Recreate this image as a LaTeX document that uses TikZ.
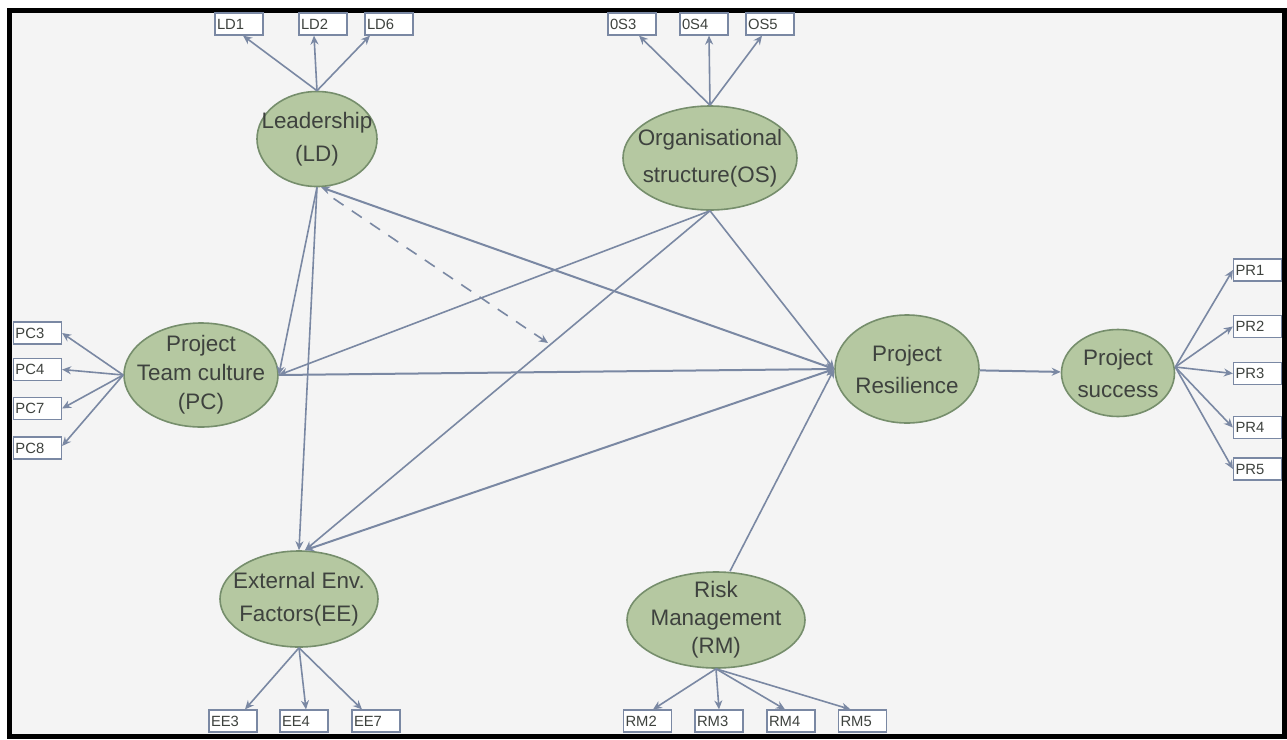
\documentclass[tikz,border=0pt]{standalone}
\usepackage{fontspec}
\setmainfont{Liberation Sans}
\usepackage{tikz}
\usetikzlibrary{shapes.geometric,arrows.meta}

\definecolor{linkc}{RGB}{122,136,163}
\definecolor{latfill}{RGB}{181,200,161}
\definecolor{latdraw}{RGB}{118,142,108}
\definecolor{txtc}{RGB}{62,66,62}
\definecolor{bgc}{RGB}{244,244,244}

\begin{document}
\begin{tikzpicture}[x=0.5pt, y=-0.5pt, >={Stealth[length=4.5pt,width=4pt]},
    latent/.style={ellipse, draw=latdraw, fill=latfill, line width=0.8pt, inner xsep=-12pt, inner ysep=-6pt,
        align=center, text=txtc, font=\fontsize{11.2}{14.5}\selectfont},
    item/.style={rectangle, draw=linkc, fill=white, line width=0.6pt, minimum height=11pt,
        inner sep=1pt, text width=22pt, align=left, text=txtc, font=\fontsize{7.4}{8}\selectfont},
    link/.style={draw=linkc, line width=0.8pt, ->}]
    % Frame and background
    \useasboundingbox (0,0) rectangle (1287,740);
    \fill[white] (0,0) rectangle (1287,740);
    \fill[bgc] (9.5,10.5) rectangle (1284.5,736);
    \draw[black, line width=2.5pt] (9.5,10.5) rectangle (1284.5,736);

    % Latent constructs
    \node (LD) at (317,139) [latent, minimum width=60pt, minimum height=47.5pt, font=\fontsize{11.2}{16.5}\selectfont] {Leadership\\(LD)};
    \node (OS) at (710,158) [latent, minimum width=87pt, minimum height=52pt, font=\fontsize{11.2}{18.5}\selectfont] {Organisational\\structure(OS)};
    \node (PC) at (201,375) [latent, minimum width=77pt, minimum height=52pt] {Project\\Team culture\\(PC)};
    \node (PR) at (907,369) [latent, minimum width=72pt, minimum height=54pt, font=\fontsize{11.2}{16}\selectfont] {Project\\Resilience};
    \node (PS) at (1118,373) [latent, minimum width=56.5pt, minimum height=43.5pt, font=\fontsize{11.2}{16}\selectfont] {Project\\success};
    \node (EE) at (299,599) [latent, minimum width=79pt, minimum height=48pt, font=\fontsize{11.2}{16.5}\selectfont] {External Env.\\Factors(EE)};
    \node (RM) at (716,620) [latent, minimum width=89pt, minimum height=48pt, font=\fontsize{11.2}{14}\selectfont] {Risk\\Management\\(RM)};

    % Indicators
    \node (LD1) at (239,24) [item] {LD1};
    \node (LD2) at (323,24) [item] {LD2};
    \node (LD6) at (389,24) [item] {LD6};
    \node (OS3) at (632,24) [item] {0S3};
    \node (OS4) at (704,24) [item] {0S4};
    \node (OS5) at (770,24) [item] {OS5};
    \node (PC3) at (37.5,333) [item] {PC3};
    \node (PC4) at (37.5,369.5) [item] {PC4};
    \node (PC7) at (37.5,408.5) [item] {PC7};
    \node (PC8) at (37.5,448) [item] {PC8};
    \node (PR1) at (1257.5,270) [item] {PR1};
    \node (PR2) at (1257.5,326.5) [item] {PR2};
    \node (PR3) at (1257.5,373.5) [item] {PR3};
    \node (PR4) at (1257.5,427.5) [item] {PR4};
    \node (PR5) at (1257.5,469) [item] {PR5};
    \node (EE3) at (233,721) [item] {EE3};
    \node (EE4) at (304,721) [item] {EE4};
    \node (EE7) at (376,721) [item] {EE7};
    \node (RM2) at (647.5,721) [item] {RM2};
    \node (RM3) at (719,721) [item] {RM3};
    \node (RM4) at (791,721) [item] {RM4};
    \node (RM5) at (862.5,721) [item] {RM5};

    % Structural paths
    \draw[link] (LD.south) -- (PC.east);
    \draw[link] (LD.south) -- (EE.north);
    \draw[link, <->, line width=1pt] ([xshift=2pt]LD.south) -- (PR.west);
    \draw[link] (OS.south) -- (PC.east);
    \draw[link] (OS.south) -- ([xshift=3pt]EE.north);
    \draw[link] (OS.south) -- (PR.west);
    \draw[link, line width=1pt] (PC.east) -- (PR.west);
    \draw[link, <->, line width=1pt] ([xshift=3pt]EE.north) -- (PR.west);
    \draw[link] ([xshift=7pt]RM.north) -- (PR.west);
    \draw[link, line width=1pt] (PR) -- (PS);

    % Moderation (dashed)
    \coordinate (mod) at (548,343);
    \draw[link, dash pattern=on 6pt off 5pt, shorten <=10pt] (LD.south) -- (mod);

    % Measurement paths
    \draw[link] (LD.north) -- ([xshift=2pt]LD1.south);
    \draw[link] (LD.north) -- ([xshift=-4.5pt]LD2.south);
    \draw[link] (LD.north) -- ([xshift=-9.5pt]LD6.south);
    \draw[link] (OS.north) -- ([xshift=3.5pt]OS3.south);
    \draw[link] (OS.north) -- ([xshift=2.5pt]OS4.south);
    \draw[link] (OS.north) -- ([xshift=-4pt]OS5.south);
    \draw[link] (PC.west) -- (PC3.east);
    \draw[link] (PC.west) -- (PC4.east);
    \draw[link] (PC.west) -- (PC7.east);
    \draw[link] (PC.west) -- ([yshift=1pt]PC8.east);
    \draw[link] ([yshift=3pt]PS.east) -- (PR1.west);
    \draw[link] ([yshift=3pt]PS.east) -- (PR2.west);
    \draw[link] ([yshift=3pt]PS.east) -- (PR3.west);
    \draw[link] ([yshift=3pt]PS.east) -- (PR4.west);
    \draw[link] ([yshift=3pt]PS.east) -- (PR5.west);
    \draw[link] (EE.south) -- ([xshift=6pt]EE3.north);
    \draw[link] (EE.south) -- ([xshift=1pt]EE4.north);
    \draw[link] (EE.south) -- ([xshift=-7pt]EE7.north);
    \draw[link] (RM.south) -- ([xshift=2.75pt]RM2.north);
    \draw[link] (RM.south) -- (RM3.north);
    \draw[link] (RM.south) -- ([xshift=-3pt]RM4.north);
    \draw[link] (RM.south) -- ([xshift=-6pt]RM5.north);
\end{tikzpicture}
\end{document}
